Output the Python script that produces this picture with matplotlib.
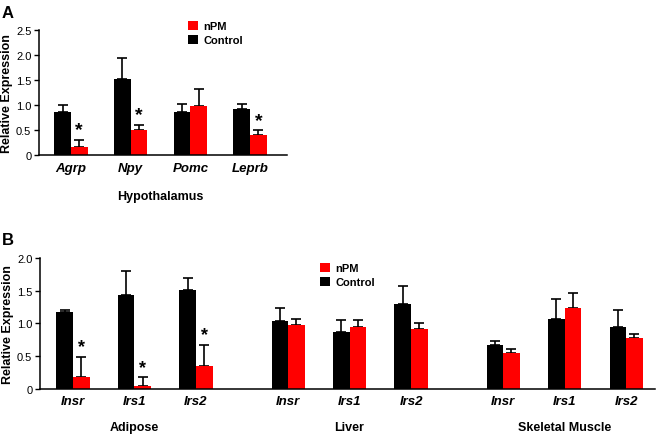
import matplotlib
matplotlib.use("Agg")
import matplotlib.pyplot as plt
import numpy as np

plt.rcParams['font.family'] = ['Liberation Sans', 'DejaVu Sans']

# ---- Panel A data (Hypothalamus) ----
genes_a = ["Agrp", "Npy", "Pomc", "Leprb"]
ctrl_a = [0.85, 1.52, 0.85, 0.91]
ctrl_a_err = [1.00, 1.93, 1.02, 1.01]   # top of error bar
npm_a = [0.15, 0.49, 0.97, 0.40]
npm_a_err = [0.30, 0.60, 1.32, 0.49]
star_a = [True, True, False, True]

# ---- Panel B data ----
tissues_b = ["Adipose", "Liver", "Skeletal Muscle"]
genes_b = ["Insr", "Irs1", "Irs2", "Insr", "Irs1", "Irs2", "Insr", "Irs1", "Irs2"]
ctrl_b = [1.17, 1.43, 1.51, 1.04, 0.87, 1.30, 0.67, 1.06, 0.95]
ctrl_b_err = [1.21, 1.80, 1.69, 1.24, 1.05, 1.58, 0.73, 1.37, 1.20]
npm_b = [0.18, 0.04, 0.35, 0.97, 0.94, 0.91, 0.55, 1.24, 0.77]
npm_b_err = [0.49, 0.17, 0.67, 1.06, 1.05, 1.01, 0.61, 1.47, 0.84]
star_b = [True, True, True, False, False, False, False, False, False]

RED = "#ff0000"
W = 658 / 100
H = 435 / 100
fig = plt.figure(figsize=(W, H), dpi=100)

def fx(px):
    return px / 658.0

def fy(py):
    return 1 - py / 435.0


def draw(ax, pos, ctrl, ctrl_err, npm, npm_err, stars, bw, star_size):
    pos = np.asarray(pos, dtype=float)
    ctrl = np.asarray(ctrl)
    npm = np.asarray(npm)
    bc = ax.bar(pos - bw / 2, ctrl, width=bw, color="black", label="Control", zorder=2)
    br = ax.bar(pos + bw / 2, npm, width=bw, color=RED, label="nPM", zorder=2)
    ax.errorbar(pos - bw / 2, ctrl, yerr=[np.zeros_like(ctrl), np.asarray(ctrl_err) - ctrl],
                fmt="none", ecolor="black", elinewidth=1.2, capsize=3.6, capthick=1.2, zorder=1)
    ax.errorbar(pos + bw / 2, npm, yerr=[np.zeros_like(npm), np.asarray(npm_err) - npm],
                fmt="none", ecolor="black", elinewidth=1.2, capsize=3.6, capthick=1.2, zorder=1)
    for x, e, s in zip(pos, npm_err, stars):
        if s:
            ax.annotate("*", (x + bw / 2, e), xytext=(0, 1), textcoords="offset points",
                        ha="center", va="bottom", fontsize=star_size, fontweight="bold")
    for sp in ["top", "right"]:
        ax.spines[sp].set_visible(False)
    for sp in ["left", "bottom"]:
        ax.spines[sp].set_linewidth(1.1)
    ax.tick_params(axis="x", length=0, pad=5)
    ax.tick_params(axis="y", length=3.5, width=1.0, labelsize=8, pad=2)
    return bc, br


def ylab(v):
    return "0" if v == 0 else f"{v:.1f}"

# ---- Panel A ----
axA = fig.add_axes([fx(39), fy(156), fx(287 - 39), (156 - 30.7) / 435])
pos_a = np.arange(len(genes_a))
bcA, brA = draw(axA, pos_a, ctrl_a, ctrl_a_err, npm_a, npm_a_err, star_a, 0.278, 14)
axA.set_xlim(-0.536, 3.62)
axA.set_ylim(0, 2.5)
ticks_a = [0, 0.5, 1.0, 1.5, 2.0, 2.5]
axA.set_yticks(ticks_a)
axA.set_yticklabels([ylab(v) for v in ticks_a])
axA.set_xticks(pos_a)
axA.set_xticklabels(genes_a, fontsize=9.5, fontweight="bold", fontstyle="italic")
axA.set_ylabel("Relative Expression", fontsize=9, fontweight="bold", labelpad=2)
axA.text(np.mean(pos_a[1:3]), -0.325, "Hypothalamus", transform=axA.get_xaxis_transform(),
         ha="center", va="center", fontsize=9, fontweight="bold")
axA.legend([brA, bcA], ["nPM", "Control"], loc="upper left",
           bbox_to_anchor=(fx(182), fy(16)), bbox_transform=fig.transFigure,
           frameon=False, borderpad=0, handlelength=0.9, handleheight=0.9,
           handletextpad=0.5, labelspacing=0.35, prop={"size": 8, "weight": "bold"})

# ---- Panel B ----
axB = fig.add_axes([fx(40), fy(389.5), fx(655 - 40), (389.5 - 259.3) / 435])
pos_b = np.array([0, 1, 2, 3.5, 4.5, 5.5, 7, 8, 9])
bcB, brB = draw(axB, pos_b, ctrl_b, ctrl_b_err, npm_b, npm_b_err, star_b, 0.27, 13)
axB.set_xlim(-0.537, 9.47)
axB.set_ylim(0, 2.0)
ticks_b = [0, 0.5, 1.0, 1.5, 2.0]
axB.set_yticks(ticks_b)
axB.set_yticklabels([ylab(v) for v in ticks_b])
axB.set_xticks(pos_b)
axB.set_xticklabels(genes_b, fontsize=9.5, fontweight="bold", fontstyle="italic")
axB.set_ylabel("Relative Expression", fontsize=9, fontweight="bold", labelpad=2)
for i, t in enumerate(tissues_b):
    axB.text(pos_b[3 * i + 1], -0.296, t, transform=axB.get_xaxis_transform(),
             ha="center", va="center", fontsize=9, fontweight="bold")
axB.legend([brB, bcB], ["nPM", "Control"], loc="upper left",
           bbox_to_anchor=(fx(314), fy(258)), bbox_transform=fig.transFigure,
           frameon=False, borderpad=0, handlelength=0.9, handleheight=0.9,
           handletextpad=0.5, labelspacing=0.35, prop={"size": 8, "weight": "bold"})

fig.text(fx(2), fy(13), "A", fontsize=12, fontweight="bold", ha="left", va="center")
fig.text(fx(2), fy(241), "B", fontsize=12, fontweight="bold", ha="left", va="center")

fig.savefig("out.png", dpi=100)
